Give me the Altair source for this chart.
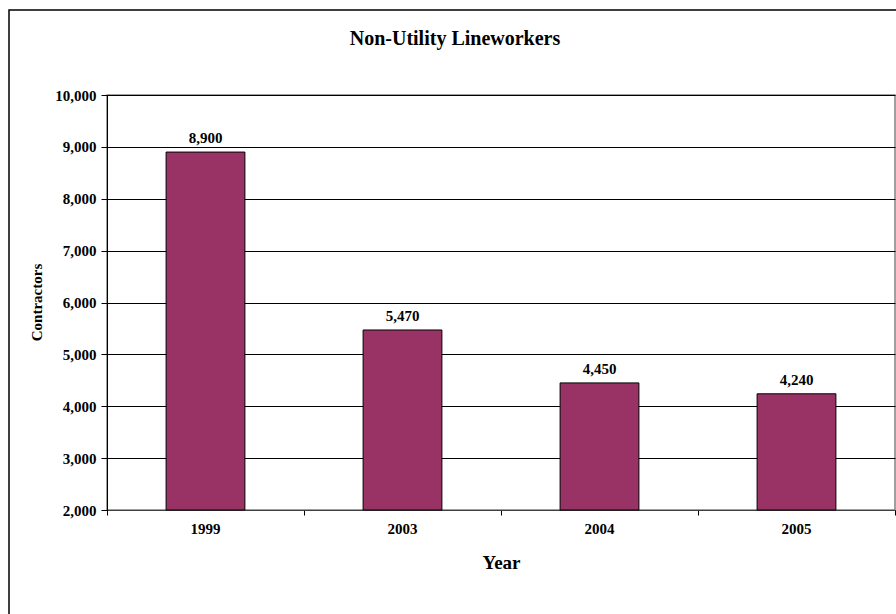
import altair as alt
import pandas as pd

years = ["1999", "2003", "2004", "2005"]
contractors = [8900, 5470, 4450, 4240]
y_ticks = [2000, 3000, 4000, 5000, 6000, 7000, 8000, 9000, 10000]
band_edges = [0, 1, 2, 3, 4]  # category boundaries for the x-axis tick marks

df = pd.DataFrame({"Year": years, "Contractors": contractors})
edges_df = pd.DataFrame({"edge": [band_edges[0]]})

FONT = "Liberation Serif"
PW, PH = 788, 415

base = alt.Chart(df)

x_scale = alt.Scale(paddingInner=0.6, paddingOuter=0.3)

x_enc = alt.X(
    "Year:N",
    sort=years,
    scale=x_scale,
    axis=alt.Axis(
        orient="bottom",
        title="Year",
        labelAngle=0,
        labelFont=FONT, labelFontWeight="bold", labelFontSize=15, labelColor="black",
        labelPadding=11,
        titleFont=FONT, titleFontWeight="bold", titleFontSize=19, titleColor="black",
        titleY=52, titleBaseline="middle",
        ticks=False,
        domainColor="#404040",
        grid=False,
    ),
)

y_enc = alt.Y(
    "Contractors:Q",
    scale=alt.Scale(domain=[2000, 10000], nice=False, zero=False, clamp=True),
    axis=alt.Axis(
        title="Contractors",
        values=y_ticks,
        format=",d",
        labelFont=FONT, labelFontWeight="bold", labelFontSize=15, labelColor="black",
        labelPadding=5,
        titleFont=FONT, titleFontWeight="bold", titleFontSize=15, titleColor="black",
        titleX=-71, titleY=207, titleBaseline="middle",
        tickSize=6, tickColor="black",
        domainColor="black",
        grid=True, gridColor="black", gridWidth=1,
    ),
)

bars = base.mark_bar(color="#993366", stroke="black", strokeWidth=1).encode(
    x=x_enc, y=y_enc
)

labels = base.mark_text(
    font=FONT, fontWeight="bold", fontSize=15, color="black",
    baseline="bottom", dy=-6,
).encode(
    x=alt.X("Year:N", sort=years, scale=x_scale),
    y=alt.Y("Contractors:Q"),
    text=alt.Text("Contractors:Q", format=",d"),
)

bar_layer = alt.layer(bars, labels)

tick_axis = alt.Chart(edges_df).mark_point(opacity=0).encode(
    x=alt.X(
        "edge:Q",
        scale=alt.Scale(domain=[band_edges[0], band_edges[-1]], nice=False, zero=False),
        axis=alt.Axis(
            orient="bottom", values=band_edges, labels=False, domain=False,
            grid=False, title=None, tickSize=5, tickColor="black",
        ),
    )
)

frame = alt.Chart(pd.DataFrame({"f": [0]})).mark_rect(
    fill=None, stroke="black", strokeWidth=1.5
).encode(
    x=alt.value(-98), x2=alt.value(PW + 50),
    y=alt.value(-85), y2=alt.value(PH + 200),
)

chart = alt.layer(frame, tick_axis, bar_layer).resolve_scale(
    x="independent"
).properties(
    width=PW,
    height=PH,
    padding={"left": 107, "top": 95, "right": 1, "bottom": 104},
    autosize=alt.AutoSizeParams(type="none"),
    background="white",
    title=alt.TitleParams(
        "Non-Utility Lineworkers",
        font=FONT, fontWeight="bold", fontSize=20, color="black",
        anchor="middle", frame="group", dx=-46, offset=-56, baseline="alphabetic",
    ),
).configure_view(
    stroke="#808080", strokeWidth=1.5
)

chart.save("out.html", embed_options={"renderer": "svg", "actions": False})
